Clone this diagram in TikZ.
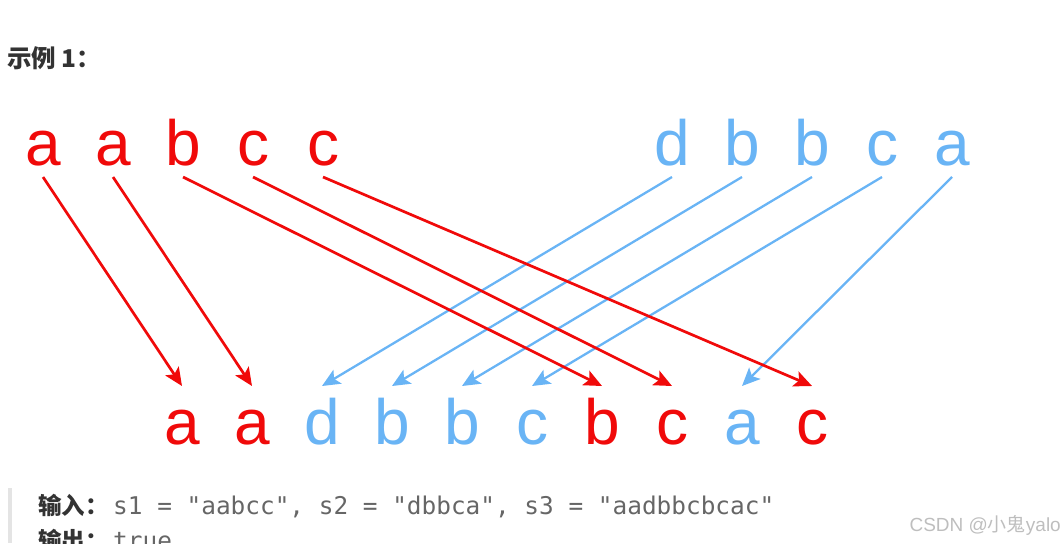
\documentclass[tikz,border=0pt]{standalone}
\usepackage{fontspec}
\setmainfont{Liberation Sans}
\setmonofont{DejaVu Sans Mono}
\newfontfamily\cjk{Noto Sans CJK SC}
\usetikzlibrary{arrows.meta}
\definecolor{sred}{RGB}{240,10,10}
\definecolor{sblue}{RGB}{105,180,245}
\definecolor{codegray}{RGB}{102,102,102}
\definecolor{labelgray}{RGB}{51,51,51}
\definecolor{markgray}{RGB}{190,190,190}
\definecolor{bargray}{RGB}{228,228,228}
\tikzset{
  letter/.style={font=\fontsize{64}{64}\selectfont, text height=46pt, text depth=0pt,
    inner sep=0pt, outer sep=12pt, anchor=base},
  redarrow/.style={draw=sred, line width=2.7pt, -{Stealth[length=18pt,width=16pt,inset=4pt]}},
  bluearrow/.style={draw=sblue, line width=2.3pt, -{Stealth[length=18pt,width=16pt,inset=4pt]}},
  label/.style={inner sep=0pt, anchor=base west, text=labelgray, font=\cjk\bfseries\fontsize{23.5}{26}\selectfont},
  code/.style={inner sep=0pt, anchor=base west, text=codegray, font=\ttfamily\fontsize{24.4}{28}\selectfont}
}
\begin{document}
\begin{tikzpicture}[x=1pt,y=-1pt]
  \useasboundingbox (0,0) rectangle (1064,543);
  % Title
  \node[label, font=\cjk\bfseries\fontsize{24.5}{28}\selectfont] (title) at (7,67) {示例 1：};
  % Top row: s1 (red) and s2 (blue)
  \foreach \i/\ch in {1/a, 2/a, 3/b, 4/c, 5/c} {
    \node[letter, text=sred] (s1-\i) at ({43+70*(\i-1)},165) {\ch};
  }
  \foreach \i/\ch in {1/d, 2/b, 3/b, 4/c, 5/a} {
    \node[letter, text=sblue] (s2-\i) at ({672+70*(\i-1)},165) {\ch};
  }
  % Bottom row: s3
  \foreach \i/\ch/\col in {1/a/sred, 2/a/sred, 3/d/sblue, 4/b/sblue, 5/b/sblue,
      6/c/sblue, 7/b/sred, 8/c/sred, 9/a/sblue, 10/c/sred} {
    \node[letter, text=\col] (s3-\i) at ({182+70*(\i-1)},444) {\ch};
  }
  % Arrows
  \foreach \a/\b in {1/3, 2/4, 3/5, 4/6, 5/9} {
    \draw[bluearrow] (s2-\a.south) -- (s3-\b.north);
  }
  \foreach \a/\b in {1/1, 2/2, 3/7, 4/8, 5/10} {
    \draw[redarrow] (s1-\a.south) -- (s3-\b.north);
  }
  % Input / output block
  \fill[bargray] (8,488) rectangle (12,543);
  \node[label] (inlab) at (38,514) {输入：};
  \node[code] (incode) at (113,514) {s1 = "aabcc", s2 = "dbbca", s3 = "aadbbcbcac"};
  \node[label] (outlab) at (38,549) {输出：};
  \node[code] (outcode) at (113,549) {true};
  % Watermark
  \node[inner sep=0pt, anchor=base east, text=markgray, font=\fontsize{19}{22}\selectfont] (mark)
    at (1061,531) {CSDN @{\cjk 小鬼}yalo};
\end{tikzpicture}
\end{document}
